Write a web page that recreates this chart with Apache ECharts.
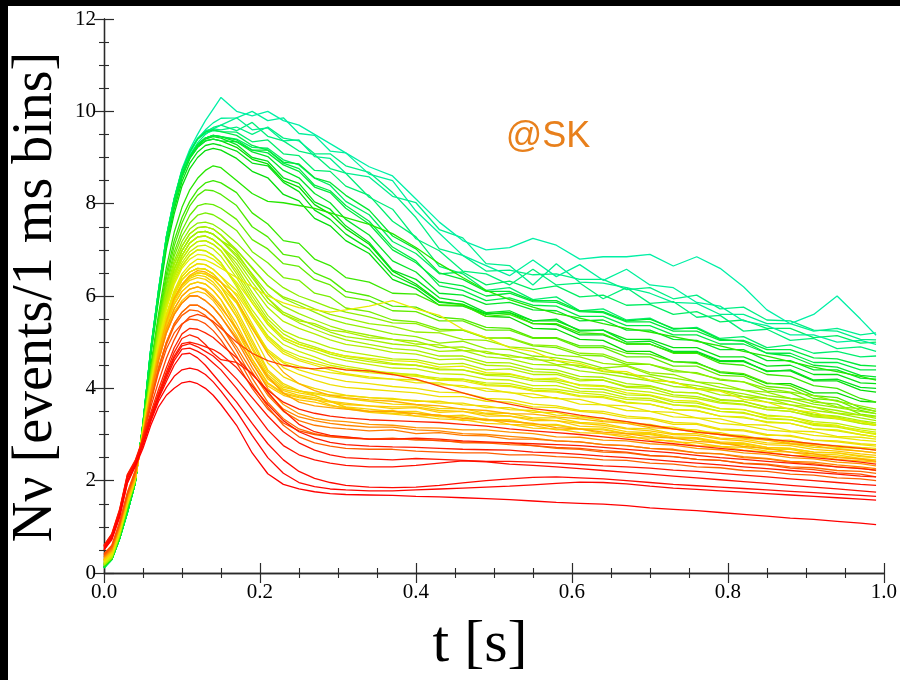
<!DOCTYPE html>
<html>
<head>
<meta charset="utf-8">
<script src="https://cdn.jsdelivr.net/npm/echarts/dist/echarts.min.js"></script>
<style>
html, body { margin: 0; padding: 0; background: #ffffff; }
#chart { width: 900px; height: 680px; }
</style>
</head>
<body>
<div id="chart"></div>
<script>
// Sampling times (s) shared by every neutrino event-rate run
const t = [0, 0.01, 0.02, 0.03, 0.04, 0.05, 0.06, 0.07, 0.08, 0.09, 0.10, 0.11, 0.12, 0.13, 0.14, 0.15,
  0.17, 0.19, 0.21, 0.23, 0.25, 0.27, 0.29, 0.31,
  0.34, 0.37, 0.40, 0.43, 0.46, 0.49, 0.52, 0.55, 0.58, 0.61, 0.64, 0.67, 0.70, 0.73, 0.76, 0.79, 0.82, 0.85, 0.88, 0.91, 0.94, 0.97, 0.99];

// Events per 1 ms bin, one array per run (highest-yield runs first)
const springRuns = [
  [0.12,0.30,0.75,1.32,1.95,3.22,4.80,6.05,7.20,8.00,8.62,9.02,9.28,9.42,9.48,9.45, 9.40,9.22,9.20,8.95,8.84,8.55,8.40,8.05, 7.76,7.18,6.92,6.48,6.52,6.24,6.32,6.14,6.22,5.98,6.02,5.80,5.82,5.60,5.66,5.44,5.48,5.30,5.30,5.10,5.14,4.98,5.00],
  [0.11,0.29,0.74,1.31,1.94,3.24,4.85,6.12,7.28,8.10,8.72,9.12,9.40,9.52,9.58,9.56, 9.55,9.34,9.38,9.08,9.04,8.72,8.70,8.38, 8.18,7.62,7.28,6.64,6.48,6.12,6.18,5.92,5.98,5.68,5.72,5.48,5.52,5.28,5.32,5.08,5.12,4.88,4.94,4.76,4.80,4.68,4.70],
  [0.11,0.29,0.74,1.31,1.94,3.24,4.85,6.12,7.28,8.10,8.72,9.12,9.40,9.55,9.65,9.70, 9.58,9.76,9.46,9.36,9.14,9.06,8.76,8.66, 8.14,7.88,7.24,6.98,6.54,6.48,6.24,6.58,6.24,6.28,5.94,6.18,5.84,5.88,5.54,5.58,5.24,5.28,5.04,5.08,4.86,4.90,4.80],
  [0.11,0.29,0.74,1.31,1.94,3.24,4.85,6.12,7.28,8.10,8.72,9.14,9.42,9.58,9.62,9.60, 9.66,9.50,9.66,9.42,9.36,9.08,9.08,8.82, 8.68,8.24,7.70,7.02,6.88,6.54,6.56,6.46,6.48,6.36,6.36,6.14,6.18,5.94,6.02,5.72,5.76,5.48,5.46,5.26,5.24,5.06,5.05],
  [0.11,0.29,0.74,1.31,1.94,3.24,4.85,6.10,7.25,8.06,8.66,9.05,9.32,9.50,9.62,9.70, 9.86,9.60,9.64,9.36,9.38,9.02,8.98,8.66, 8.58,8.16,8.02,7.44,7.26,6.70,6.66,6.24,6.70,6.30,6.28,6.18,6.06,5.86,5.84,5.60,5.60,5.40,5.40,5.24,5.30,5.16,5.20],
  [0.11,0.29,0.74,1.31,1.94,3.24,4.86,6.12,7.26,8.08,8.70,9.10,9.40,9.60,9.75,9.85, 9.86,10.00,9.80,9.86,9.52,9.48,9.14,9.10, 8.64,8.50,7.84,7.36,6.88,6.66,6.44,6.78,6.42,6.68,6.34,6.58,6.24,6.18,5.86,5.78,5.46,5.36,5.16,5.16,5.00,5.04,4.95],
  [0.11,0.29,0.74,1.30,1.94,3.25,4.88,6.15,7.30,8.12,8.75,9.18,9.50,9.80,10.05,10.30, 10.00,9.90,10.00,9.80,9.70,9.50,9.30,9.10, 8.80,8.60,8.10,7.60,7.20,7.00,7.05,7.25,7.10,6.80,6.85,6.85,6.90,6.65,6.85,6.60,6.20,5.70,5.40,5.60,6.00,5.50,5.15]
];

const greenRuns = [
  [0.12,0.30,0.75,1.32,1.95,3.22,4.80,6.05,7.18,7.98,8.58,8.98,9.22,9.36,9.40,9.36, 9.22,8.96,8.86,8.50,8.36,7.98,7.78,7.46, 7.12,6.54,6.26,5.88,5.82,5.56,5.54,5.30,5.28,5.06,5.04,4.80,4.80,4.58,4.56,4.34,4.30,4.10,4.10,3.90,3.90,3.72,3.70],
  [0.13,0.31,0.77,1.34,1.96,3.19,4.72,5.92,7.02,7.78,8.38,8.76,9.00,9.15,9.20,9.16, 8.98,8.70,8.56,8.20,8.06,7.68,7.52,7.20, 6.92,6.36,6.16,5.80,5.78,5.60,5.64,5.40,5.38,5.16,5.16,4.96,4.96,4.78,4.78,4.58,4.58,4.38,4.38,4.16,4.16,3.96,3.92],
  [0.13,0.31,0.76,1.33,1.96,3.20,4.75,5.98,7.10,7.88,8.48,8.88,9.12,9.26,9.30,9.26, 9.14,8.88,8.82,8.46,8.26,7.86,7.66,7.34, 7.02,6.46,6.22,5.86,5.82,5.62,5.64,5.46,5.46,5.26,5.26,5.06,5.06,4.88,4.88,4.68,4.68,4.48,4.50,4.30,4.30,4.12,4.10],
  [0.12,0.30,0.75,1.32,1.95,3.22,4.80,6.05,7.20,8.00,8.60,9.00,9.25,9.40,9.45,9.42, 9.28,9.00,8.92,8.56,8.44,8.04,7.88,7.52, 7.16,6.56,6.36,5.96,5.88,5.64,5.68,5.46,5.50,5.24,5.26,5.00,5.02,4.80,4.80,4.60,4.60,4.36,4.40,4.18,4.20,4.02,4.00],
  [0.12,0.30,0.75,1.32,1.95,3.22,4.80,6.05,7.20,8.00,8.62,9.02,9.28,9.42,9.48,9.45, 9.34,9.12,9.02,8.72,8.56,8.22,8.02,7.66, 7.32,6.76,6.52,6.06,6.02,5.82,5.86,5.70,5.68,5.46,5.48,5.26,5.26,5.06,5.04,4.84,4.84,4.60,4.60,4.40,4.40,4.22,4.20],
  [0.12,0.30,0.75,1.32,1.95,3.22,4.80,6.05,7.18,7.98,8.58,8.98,9.22,9.36,9.40,9.36, 9.34,9.16,9.16,8.90,8.86,8.56,8.46,8.18, 7.86,7.30,7.02,6.50,6.36,6.10,6.10,5.90,5.90,5.68,5.66,5.46,5.50,5.30,5.30,5.06,5.02,4.76,4.70,4.50,4.46,4.28,4.25],
  [0.12,0.30,0.75,1.32,1.95,3.22,4.80,6.05,7.20,8.00,8.62,9.02,9.28,9.42,9.48,9.45, 9.38,9.16,9.10,8.84,8.70,8.36,8.24,7.90, 7.56,7.00,6.72,6.30,6.22,6.00,6.06,5.88,5.86,5.66,5.64,5.44,5.44,5.24,5.24,5.04,5.04,4.84,4.84,4.66,4.64,4.50,4.48],
  [0.11,0.29,0.74,1.31,1.94,3.24,4.85,6.12,7.28,8.10,8.72,9.12,9.40,9.55,9.60,9.56, 9.48,9.26,9.16,8.88,8.76,8.40,8.28,7.96, 7.62,7.06,6.76,6.22,6.12,5.90,5.96,5.80,5.78,5.56,5.56,5.36,5.36,5.16,5.16,4.96,4.96,4.76,4.76,4.56,4.56,4.40,4.40]
];

const limeRuns = [
  [0.14,0.31,0.78,1.40,1.96,3.20,4.50,5.62,6.62,7.38,7.92,8.30,8.55,8.72,8.82,8.78, 8.50,8.22,8.05,8.02,7.96,7.90,7.80,7.70, 7.55,7.35,7.05,6.70,6.40,6.12,5.92,5.76,5.62,5.52,5.40,5.30,5.22,5.12,5.02,4.92,4.80,4.70,4.58,4.46,4.36,4.26,4.18],
  [0.16,0.32,0.80,1.42,1.98,3.18,4.40,5.52,6.48,7.20,7.70,8.05,8.30,8.45,8.50,8.45, 8.24,7.80,7.56,7.20,7.14,6.80,6.66,6.40, 6.30,6.06,6.04,5.80,5.80,5.56,5.60,5.40,5.40,5.20,5.18,4.96,4.96,4.76,4.76,4.54,4.50,4.30,4.26,4.06,4.00,3.78,3.70],
  [0.16,0.32,0.80,1.43,1.98,3.16,4.36,5.45,6.38,7.08,7.58,7.95,8.18,8.30,8.28,8.20, 7.96,7.50,7.28,6.90,6.84,6.50,6.36,6.10, 6.00,5.78,5.76,5.54,5.50,5.32,5.30,5.10,5.10,4.92,4.92,4.76,4.74,4.58,4.54,4.36,4.32,4.12,4.06,3.84,3.80,3.58,3.50],
  [0.17,0.33,0.81,1.44,1.99,3.15,4.32,5.38,6.28,6.95,7.42,7.75,7.95,8.00,7.98,7.90, 7.66,7.22,7.02,6.70,6.64,6.36,6.24,5.98, 5.90,5.68,5.66,5.46,5.46,5.26,5.26,5.08,5.08,4.88,4.88,4.68,4.68,4.48,4.48,4.28,4.26,4.04,4.00,3.78,3.74,3.52,3.45],
  [0.17,0.33,0.82,1.45,1.99,3.14,4.30,5.34,6.22,6.86,7.30,7.58,7.75,7.80,7.76,7.66, 7.42,6.96,6.72,6.40,6.34,6.06,5.98,5.74, 5.66,5.48,5.44,5.28,5.26,5.10,5.08,4.92,4.88,4.72,4.70,4.52,4.52,4.36,4.34,4.18,4.14,3.94,3.90,3.70,3.66,3.44,3.40]
];

const yellowGreenRuns = [
  [0.17,0.33,0.83,1.47,2.01,3.16,4.26,5.30,6.14,6.76,7.18,7.45,7.58,7.60,7.55,7.44, 7.15,6.80,6.45,6.18,6.00,5.88,5.75,5.65, 5.55,5.42,5.40,5.24,5.26,5.08,5.10,4.94,4.92,4.76,4.74,4.56,4.52,4.40,4.32,4.20,4.14,4.00,3.92,3.84,3.72,3.62,3.55],
  [0.18,0.34,0.84,1.48,2.01,3.14,4.22,5.24,6.06,6.68,7.08,7.35,7.48,7.50,7.45,7.32, 7.00,6.60,6.22,5.95,5.80,5.65,5.50,5.40, 5.30,5.18,5.12,4.98,5.02,4.86,4.84,4.70,4.66,4.58,4.44,4.48,4.30,4.22,4.14,4.02,3.96,3.84,3.78,3.66,3.58,3.50,3.45],
  [0.19,0.35,0.85,1.49,2.02,3.12,4.18,5.18,5.98,6.58,6.98,7.25,7.38,7.40,7.34,7.20, 7.00,6.62,6.22,5.98,5.86,5.72,5.60,5.52, 5.40,5.34,5.22,5.20,5.06,5.04,4.90,4.86,4.72,4.68,4.54,4.50,4.34,4.30,4.14,4.10,3.96,3.92,3.78,3.74,3.60,3.56,3.50],
  [0.19,0.35,0.85,1.49,2.02,3.12,4.18,5.18,5.98,6.58,6.98,7.25,7.38,7.40,7.34,7.20, 6.90,6.48,6.05,5.78,5.62,5.48,5.35,5.25, 5.15,5.06,5.02,4.88,4.90,4.76,4.72,4.62,4.60,4.46,4.42,4.30,4.26,4.12,4.06,3.96,3.88,3.78,3.72,3.60,3.52,3.42,3.35],
  [0.19,0.35,0.85,1.49,2.02,3.12,4.18,5.18,5.98,6.58,6.98,7.25,7.38,7.40,7.34,7.20, 6.85,6.40,5.95,5.65,5.50,5.36,5.22,5.12, 5.05,4.96,4.92,4.80,4.82,4.68,4.64,4.52,4.50,4.38,4.32,4.24,4.16,4.04,4.00,3.86,3.82,3.70,3.64,3.52,3.46,3.36,3.30],
  [0.18,0.34,0.84,1.48,2.01,3.14,4.22,5.24,6.06,6.68,7.08,7.35,7.48,7.50,7.45,7.32, 6.95,6.45,5.95,5.60,5.42,5.28,5.15,5.05, 4.95,4.86,4.82,4.70,4.70,4.56,4.55,4.42,4.40,4.26,4.24,4.10,4.06,3.92,3.90,3.76,3.72,3.60,3.56,3.44,3.40,3.30,3.25],
  [0.20,0.36,0.86,1.50,2.02,3.10,4.15,5.12,5.90,6.48,6.88,7.15,7.28,7.30,7.22,7.08, 6.78,6.30,5.86,5.60,5.46,5.40,5.26,5.22, 5.10,5.06,4.96,4.94,4.82,4.80,4.68,4.66,4.52,4.50,4.36,4.32,4.18,4.14,4.00,3.96,3.82,3.78,3.64,3.60,3.46,3.42,3.38],
  [0.20,0.36,0.86,1.50,2.02,3.10,4.15,5.12,5.90,6.48,6.88,7.15,7.28,7.30,7.22,7.08, 6.70,6.20,5.75,5.45,5.30,5.18,5.05,4.95, 4.88,4.78,4.74,4.62,4.64,4.50,4.48,4.36,4.34,4.20,4.18,4.02,4.00,3.86,3.82,3.70,3.66,3.54,3.50,3.38,3.34,3.24,3.20],
  [0.20,0.36,0.86,1.50,2.02,3.10,4.15,5.12,5.90,6.48,6.88,7.15,7.28,7.30,7.22,7.08, 6.62,6.08,5.58,5.25,5.10,5.00,4.88,4.80, 4.72,4.64,4.62,4.52,4.54,4.40,4.42,4.30,4.30,4.16,4.18,4.04,4.04,3.92,3.90,3.74,3.72,3.58,3.56,3.42,3.38,3.24,3.20],
  [0.21,0.37,0.87,1.50,2.02,3.09,4.12,5.08,5.85,6.42,6.80,7.05,7.18,7.20,7.12,6.98, 6.55,6.00,5.50,5.18,5.00,4.90,4.78,4.70, 4.62,4.54,4.50,4.42,4.40,4.28,4.26,4.16,4.14,4.00,3.98,3.86,3.84,3.70,3.68,3.56,3.54,3.42,3.38,3.28,3.24,3.14,3.10],
  [0.21,0.37,0.87,1.50,2.02,3.09,4.12,5.08,5.85,6.42,6.80,7.05,7.18,7.20,7.12,6.98, 6.48,5.92,5.44,5.10,4.96,4.86,4.74,4.66, 4.58,4.52,4.50,4.40,4.40,4.30,4.30,4.20,4.18,4.08,4.06,3.96,3.92,3.82,3.78,3.68,3.64,3.54,3.50,3.40,3.36,3.28,3.22],
  [0.21,0.37,0.87,1.50,2.02,3.08,4.11,5.05,5.80,6.36,6.72,6.96,7.08,7.10,7.02,6.86, 6.40,5.85,5.38,5.05,4.90,4.80,4.68,4.60, 4.52,4.44,4.42,4.32,4.30,4.20,4.18,4.06,4.06,3.94,3.92,3.80,3.78,3.64,3.62,3.50,3.48,3.34,3.32,3.20,3.16,3.06,3.02],
  [0.22,0.38,0.88,1.51,2.03,3.08,4.10,5.02,5.75,6.30,6.65,6.88,7.00,6.98,6.88,6.72, 6.25,5.70,5.25,4.95,4.80,4.68,4.55,4.48, 4.40,4.32,4.30,4.18,4.20,4.08,4.06,3.96,3.94,3.84,3.82,3.70,3.66,3.54,3.52,3.40,3.36,3.28,3.24,3.12,3.08,3.00,2.95],
  [0.22,0.38,0.88,1.51,2.03,3.08,4.10,5.02,5.75,6.30,6.65,6.88,7.00,6.98,6.88,6.72, 6.20,5.62,5.14,4.84,4.70,4.60,4.50,4.44, 4.36,4.34,4.28,4.22,4.20,4.12,4.10,4.00,3.98,3.90,3.86,3.76,3.74,3.64,3.60,3.50,3.46,3.36,3.32,3.22,3.18,3.10,3.05]
];

const yellowRuns = [
  [0.24,0.41,0.91,1.53,2.05,3.08,4.08,5.00,5.72,6.25,6.60,6.80,6.90,6.88,6.80,6.66, 6.30,5.85,5.40,5.10,4.95,4.85,4.78,4.70, 4.65,4.60,4.58,4.46,4.48,4.34,4.32,4.20,4.22,4.06,4.04,3.90,3.86,3.74,3.72,3.56,3.54,3.40,3.38,3.24,3.20,3.06,3.00],
  [0.25,0.42,0.92,1.54,2.05,3.05,4.02,4.92,5.62,6.12,6.48,6.68,6.80,6.78,6.70,6.60, 6.40,6.20,6.00,5.85,5.75,5.70,5.65,5.70, 5.78,5.90,5.72,5.58,5.28,5.10,4.88,4.80,4.60,4.54,4.38,4.36,4.18,4.14,3.98,3.94,3.76,3.70,3.54,3.48,3.34,3.28,3.20],
  [0.26,0.43,0.93,1.54,2.05,3.04,4.00,4.88,5.58,6.08,6.42,6.60,6.70,6.68,6.58,6.42, 6.12,5.60,5.10,4.80,4.64,4.54,4.46,4.40, 4.34,4.30,4.26,4.18,4.16,4.06,4.04,3.94,3.92,3.82,3.80,3.68,3.66,3.54,3.52,3.40,3.38,3.26,3.24,3.12,3.10,3.00,2.95],
  [0.27,0.44,0.94,1.55,2.05,3.02,3.98,4.85,5.52,6.02,6.35,6.52,6.60,6.58,6.48,6.30, 6.05,5.55,5.05,4.75,4.60,4.50,4.40,4.32, 4.25,4.20,4.18,4.08,4.06,3.94,3.92,3.80,3.80,3.66,3.64,3.52,3.50,3.38,3.36,3.24,3.20,3.10,3.06,2.98,2.94,2.88,2.85],
  [0.27,0.44,0.94,1.55,2.05,3.02,3.98,4.85,5.52,6.02,6.35,6.52,6.60,6.58,6.48,6.30, 5.90,5.34,4.84,4.58,4.48,4.40,4.34,4.30, 4.22,4.20,4.12,4.12,4.02,4.00,3.90,3.88,3.78,3.76,3.64,3.62,3.50,3.48,3.36,3.34,3.22,3.20,3.08,3.06,2.96,2.94,2.90],
  [0.28,0.45,0.95,1.55,2.05,3.00,3.95,4.80,5.45,5.95,6.25,6.42,6.50,6.48,6.38,6.20, 5.85,5.30,4.80,4.55,4.40,4.30,4.22,4.15, 4.10,4.04,4.00,3.92,3.90,3.78,3.76,3.66,3.62,3.52,3.50,3.40,3.36,3.26,3.24,3.12,3.10,3.00,2.96,2.88,2.84,2.78,2.75],
  [0.26,0.43,0.93,1.54,2.05,3.04,4.00,4.88,5.58,6.08,6.42,6.60,6.70,6.68,6.58,6.42, 6.00,5.40,4.80,4.45,4.30,4.18,4.08,4.02, 3.98,3.94,3.90,3.82,3.82,3.72,3.70,3.60,3.58,3.50,3.46,3.36,3.34,3.22,3.22,3.10,3.08,2.98,2.98,2.88,2.86,2.80,2.78],
  [0.27,0.44,0.94,1.55,2.05,3.02,3.98,4.85,5.52,6.02,6.35,6.52,6.60,6.58,6.48,6.30, 5.85,5.20,4.55,4.25,4.10,4.00,3.92,3.85, 3.80,3.76,3.74,3.68,3.68,3.58,3.58,3.48,3.48,3.36,3.36,3.24,3.22,3.12,3.10,3.00,2.98,2.88,2.88,2.78,2.76,2.72,2.70],
  [0.28,0.45,0.95,1.55,2.05,3.00,3.95,4.80,5.45,5.95,6.25,6.42,6.50,6.48,6.38,6.20, 5.62,4.98,4.36,4.06,3.94,3.90,3.86,3.84, 3.80,3.78,3.72,3.72,3.64,3.62,3.54,3.52,3.42,3.40,3.30,3.28,3.18,3.16,3.06,3.04,2.94,2.92,2.82,2.80,2.72,2.70,2.66],
  [0.28,0.45,0.95,1.55,2.05,3.00,3.95,4.80,5.45,5.95,6.25,6.42,6.50,6.48,6.38,6.20, 5.70,5.05,4.40,4.10,3.95,3.88,3.82,3.78, 3.72,3.66,3.64,3.56,3.56,3.46,3.46,3.36,3.36,3.26,3.24,3.14,3.12,3.02,3.02,2.92,2.90,2.82,2.80,2.72,2.70,2.64,2.60],
  [0.28,0.45,0.95,1.55,2.05,3.00,3.94,4.78,5.42,5.92,6.22,6.38,6.45,6.42,6.30,6.10, 5.55,4.85,4.25,3.98,3.90,3.84,3.72,3.58, 3.50,3.46,3.46,3.38,3.38,3.30,3.30,3.22,3.20,3.12,3.10,3.02,3.00,2.92,2.90,2.80,2.78,2.68,2.68,2.58,2.56,2.48,2.45],
  [0.29,0.46,0.96,1.56,2.05,3.00,3.92,4.75,5.40,5.88,6.18,6.34,6.40,6.36,6.24,6.05, 5.55,4.90,4.30,4.02,3.95,3.85,3.72,3.60, 3.55,3.50,3.50,3.40,3.42,3.32,3.32,3.22,3.22,3.12,3.12,3.02,3.02,2.92,2.92,2.82,2.80,2.72,2.70,2.62,2.60,2.54,2.50],
  [0.28,0.46,0.96,1.56,2.05,3.00,3.92,4.72,5.38,5.82,6.10,6.25,6.30,6.26,6.12,5.92, 5.40,4.75,4.20,3.95,3.85,3.80,3.72,3.68, 3.62,3.56,3.58,3.48,3.50,3.40,3.40,3.30,3.30,3.18,3.16,3.06,3.04,2.95,2.93,2.84,2.82,2.72,2.70,2.62,2.60,2.52,2.50],
  [0.28,0.46,0.96,1.56,2.05,3.00,3.92,4.72,5.38,5.82,6.10,6.25,6.30,6.26,6.12,5.92, 5.30,4.64,4.12,3.90,3.82,3.76,3.64,3.56, 3.48,3.44,3.40,3.34,3.32,3.24,3.22,3.14,3.12,3.04,3.02,2.94,2.92,2.84,2.82,2.74,2.72,2.64,2.62,2.54,2.52,2.46,2.42],
  [0.30,0.47,0.97,1.57,2.05,2.99,3.90,4.68,5.30,5.72,6.00,6.15,6.20,6.15,6.00,5.80, 5.25,4.62,4.10,3.88,3.80,3.75,3.70,3.65, 3.62,3.60,3.60,3.52,3.50,3.44,3.40,3.34,3.30,3.24,3.20,3.12,3.08,3.00,2.98,2.90,2.86,2.78,2.76,2.68,2.64,2.58,2.55],
  [0.30,0.47,0.97,1.58,2.06,2.98,3.88,4.65,5.25,5.65,5.90,6.05,6.10,6.05,5.90,5.68, 5.15,4.55,4.05,3.85,3.75,3.70,3.62,3.58, 3.50,3.52,3.40,3.42,3.30,3.34,3.22,3.20,3.10,3.12,3.02,2.98,2.88,2.86,2.76,2.74,2.66,2.62,2.55,2.54,2.46,2.43,2.40]
];

const orangeRuns = [
  [0.32,0.48,0.98,1.62,2.08,3.00,3.95,4.78,5.45,5.95,6.25,6.45,6.55,6.52,6.42,6.30, 5.90,5.30,4.75,4.35,4.10,3.95,3.85,3.80, 3.75,3.72,3.65,3.62,3.55,3.52,3.45,3.44,3.38,3.34,3.28,3.24,3.15,3.12,3.05,3.00,2.92,2.88,2.80,2.76,2.68,2.64,2.60],
  [0.34,0.50,1.00,1.64,2.10,3.00,3.90,4.68,5.30,5.72,6.00,6.15,6.20,6.12,5.95,5.75, 5.30,4.75,4.25,3.90,3.70,3.62,3.58,3.55, 3.50,3.50,3.45,3.42,3.35,3.32,3.28,3.24,3.15,3.12,3.05,3.02,2.95,2.92,2.85,2.82,2.74,2.70,2.62,2.58,2.50,2.47,2.42],
  [0.35,0.52,1.02,1.66,2.12,2.98,3.85,4.60,5.20,5.60,5.85,6.00,6.00,5.90,5.75,5.55, 5.10,4.55,4.00,3.65,3.45,3.35,3.30,3.28, 3.22,3.20,3.15,3.14,3.10,3.10,3.05,3.02,2.95,2.94,2.88,2.86,2.80,2.77,2.70,2.67,2.60,2.57,2.50,2.47,2.40,2.37,2.32],
  [0.35,0.52,1.02,1.66,2.12,2.98,3.85,4.60,5.20,5.60,5.85,6.00,6.00,5.90,5.75,5.55, 5.05,4.45,3.90,3.55,3.38,3.30,3.24,3.20, 3.16,3.16,3.10,3.08,3.02,3.00,2.96,2.92,2.86,2.84,2.78,2.76,2.70,2.66,2.60,2.58,2.52,2.48,2.42,2.40,2.34,2.30,2.26],
  [0.38,0.55,1.05,1.70,2.16,2.96,3.75,4.45,5.00,5.40,5.65,5.80,5.80,5.70,5.55,5.35, 4.90,4.35,3.85,3.50,3.30,3.20,3.15,3.12, 3.08,3.10,3.02,3.04,2.98,2.97,2.90,2.90,2.86,2.84,2.78,2.76,2.70,2.68,2.60,2.58,2.50,2.47,2.40,2.37,2.30,2.27,2.22],
  [0.38,0.55,1.05,1.70,2.16,2.96,3.75,4.45,5.00,5.40,5.65,5.80,5.80,5.70,5.55,5.35, 4.82,4.22,3.70,3.34,3.12,3.02,2.96,2.94, 2.90,2.92,2.88,2.88,2.82,2.82,2.78,2.76,2.70,2.68,2.62,2.60,2.54,2.52,2.46,2.44,2.38,2.36,2.30,2.28,2.22,2.20,2.16],
  [0.42,0.60,1.10,1.75,2.22,2.96,3.72,4.42,4.95,5.35,5.58,5.70,5.68,5.58,5.42,5.20, 4.70,4.10,3.60,3.20,2.95,2.82,2.75,2.70, 2.68,2.68,2.64,2.62,2.60,2.60,2.56,2.56,2.52,2.50,2.45,2.44,2.38,2.36,2.30,2.28,2.22,2.20,2.14,2.12,2.06,2.04,2.00],
  [0.40,0.58,1.08,1.72,2.20,2.95,3.70,4.35,4.85,5.20,5.40,5.50,5.48,5.40,5.25,5.05, 4.55,4.00,3.55,3.25,3.08,3.00,2.95,2.92, 2.90,2.90,2.90,2.86,2.84,2.82,2.82,2.76,2.72,2.70,2.65,2.62,2.55,2.52,2.46,2.44,2.37,2.34,2.27,2.24,2.17,2.14,2.08],
  [0.50,0.74,1.24,1.95,2.34,2.95,3.60,4.15,4.65,5.05,5.38,5.55,5.60,5.55,5.45,5.30, 5.00,4.76,4.60,4.50,4.45,4.42,4.45,4.40, 4.38,4.30,4.20,4.05,3.90,3.76,3.66,3.56,3.50,3.42,3.35,3.28,3.20,3.12,3.05,3.00,2.95,2.90,2.85,2.80,2.75,2.70,2.66]
];

const redRuns = [
  [0.60,0.85,1.38,2.14,2.44,2.92,3.48,3.98,4.45,4.88,5.18,5.30,5.28,5.20,5.10,4.95, 4.66,4.30,3.96,3.70,3.55,3.46,3.40,3.36, 3.32,3.30,3.28,3.26,3.22,3.18,3.12,3.08,3.04,3.00,2.95,2.90,2.85,2.80,2.75,2.70,2.65,2.60,2.55,2.50,2.45,2.40,2.36],
  [0.58,0.82,1.33,2.08,2.40,2.86,3.42,3.90,4.36,4.78,5.08,5.16,5.10,4.95,4.76,4.62, 4.56,4.32,3.92,3.52,3.22,3.06,2.98,2.95, 2.90,2.90,2.92,2.90,2.86,2.84,2.82,2.80,2.78,2.76,2.72,2.68,2.64,2.60,2.55,2.50,2.46,2.42,2.38,2.34,2.30,2.26,2.23],
  [0.60,0.84,1.36,2.12,2.42,2.88,3.40,3.86,4.30,4.70,4.97,5.00,4.96,4.90,4.84,4.74, 4.45,4.05,3.65,3.30,3.06,2.92,2.83,2.78, 2.75,2.73,2.72,2.70,2.68,2.67,2.66,2.62,2.60,2.57,2.53,2.50,2.46,2.42,2.38,2.34,2.30,2.26,2.22,2.18,2.14,2.10,2.08],
  [0.58,0.82,1.34,2.10,2.40,2.85,3.38,3.84,4.28,4.66,4.92,4.97,4.90,4.80,4.70,4.55, 4.20,3.80,3.40,3.06,2.82,2.66,2.56,2.50, 2.47,2.45,2.48,2.46,2.44,2.42,2.42,2.40,2.38,2.35,2.32,2.30,2.27,2.23,2.20,2.16,2.12,2.08,2.04,2.00,1.96,1.92,1.90],
  [0.56,0.80,1.32,2.08,2.38,2.82,3.35,3.80,4.22,4.60,4.85,4.87,4.80,4.70,4.55,4.40, 4.00,3.55,3.10,2.76,2.56,2.45,2.38,2.33, 2.30,2.30,2.33,2.38,2.43,2.41,2.36,2.33,2.30,2.26,2.22,2.18,2.14,2.10,2.06,2.02,1.98,1.94,1.90,1.86,1.82,1.78,1.75],
  [0.55,0.80,1.30,2.05,2.36,2.80,3.32,3.78,4.15,4.50,4.74,4.76,4.66,4.50,4.30,4.10, 3.70,3.24,2.80,2.45,2.20,2.05,1.96,1.90, 1.86,1.85,1.86,1.90,1.95,2.00,2.04,2.07,2.08,2.06,2.04,2.00,1.96,1.92,1.89,1.86,1.83,1.80,1.77,1.74,1.71,1.68,1.66],
  [0.52,0.76,1.26,2.00,2.33,2.76,3.28,3.72,4.02,4.26,4.40,4.44,4.40,4.30,4.14,3.94, 3.50,2.98,2.50,2.16,1.96,1.87,1.82,1.80, 1.78,1.78,1.80,1.82,1.84,1.86,1.88,1.91,1.94,1.97,1.96,1.93,1.88,1.84,1.81,1.78,1.75,1.72,1.69,1.66,1.63,1.60,1.58],
  [0.50,0.72,1.20,1.95,2.30,2.70,3.20,3.60,3.85,4.00,4.12,4.15,4.10,4.00,3.85,3.65, 3.20,2.60,2.15,1.92,1.82,1.76,1.72,1.70, 1.69,1.68,1.66,1.65,1.63,1.61,1.59,1.56,1.53,1.51,1.49,1.46,1.41,1.38,1.35,1.31,1.27,1.23,1.19,1.16,1.12,1.08,1.05]
];

const xTickLabels = ['0.0', '0.2', '0.4', '0.6', '0.8', '1.0'];
const yTickLabels = ['0', '2', '4', '6', '8', '10', '12'];

// Colour ramp per family of runs, from the first run of the family to the last
const families = [
  { runs: springRuns, from: '#00ee62', to: '#00f0a6' },
  { runs: greenRuns, from: '#06dc00', to: '#00ec44' },
  { runs: limeRuns, from: '#26e600', to: '#78ee00' },
  { runs: yellowGreenRuns, from: '#8ef000', to: '#d2f000' },
  { runs: yellowRuns, from: '#e4f000', to: '#ffc600' },
  { runs: orangeRuns, from: '#ffb000', to: '#ff4200' },
  { runs: redRuns, from: '#ff2400', to: '#ff0000' }
];

function hexToRgb(h) {
  const n = parseInt(h.slice(1), 16);
  return [(n >> 16) & 255, (n >> 8) & 255, n & 255];
}
function mix(a, b, f) {
  const p = hexToRgb(a), q = hexToRgb(b);
  const c = p.map((v, i) => Math.round(v + (q[i] - v) * f));
  return 'rgb(' + c.join(',') + ')';
}

const series = [];
families.forEach(fam => {
  const n = fam.runs.length;
  fam.runs.forEach((run, i) => {
    series.push({
      type: 'line',
      xAxisIndex: 0,
      yAxisIndex: 0,
      data: t.map((x, k) => [x, run[k]]),
      showSymbol: false,
      symbol: 'none',
      silent: true,
      animation: false,
      lineStyle: { width: 1.3, color: mix(fam.from, fam.to, n > 1 ? i / (n - 1) : 0) }
    });
  });
});

const serif = '"Liberation Serif", "Times New Roman", serif';
const frameLine = { show: true, lineStyle: { color: '#2a2a2a', width: 1.3 } };
const majorTick = { show: true, inside: true, length: 10, lineStyle: { color: '#2a2a2a', width: 1.2 } };
const minorTick = { show: true, splitNumber: 4, length: 5, lineStyle: { color: '#2a2a2a', width: 1.1 } };

const chart = echarts.init(document.getElementById('chart'), null, { renderer: 'canvas' });
chart.setOption({
  backgroundColor: '#ffffff',
  animation: false,
  grid: { left: 104, right: 14, top: 19, bottom: 107, containLabel: false },
  xAxis: [
    {
      type: 'value', position: 'bottom', min: 0, max: 1, interval: 0.2,
      axisLine: frameLine, axisTick: majorTick, minorTick: minorTick,
      splitLine: { show: false }, minorSplitLine: { show: false },
      axisLabel: {
        show: true, margin: 9, color: '#000', fontFamily: serif, fontSize: 21,
        formatter: v => xTickLabels[Math.round(v / 0.2)]
      }
    },
    {
      type: 'value', position: 'top', min: 0, max: 1, interval: 0.2,
      axisLine: frameLine, axisTick: majorTick, minorTick: minorTick,
      splitLine: { show: false }, axisLabel: { show: false }
    }
  ],
  yAxis: [
    {
      type: 'value', position: 'left', min: 0, max: 12, interval: 2,
      axisLine: frameLine, axisTick: majorTick, minorTick: minorTick,
      splitLine: { show: false }, minorSplitLine: { show: false },
      axisLabel: {
        show: true, margin: 8, color: '#000', fontFamily: serif, fontSize: 21,
        formatter: v => yTickLabels[Math.round(v / 2)]
      }
    },
    {
      type: 'value', position: 'right', min: 0, max: 12, interval: 2,
      axisLine: frameLine, axisTick: majorTick, minorTick: minorTick,
      splitLine: { show: false }, axisLabel: { show: false }
    }
  ],
  graphic: [
    { type: 'rect', left: 0, top: 0, shape: { width: 900, height: 6 }, style: { fill: '#000' }, z: 100 },
    { type: 'rect', left: 0, top: 0, shape: { width: 8, height: 680 }, style: { fill: '#000' }, z: 100 },
    {
      type: 'text', x: 36, y: 297, rotation: Math.PI / 2, z: 100,
      style: { text: 'N\u03bd [events/1 ms bins]', font: '56px ' + serif, fill: '#000', textAlign: 'center', textVerticalAlign: 'middle' }
    },
    {
      type: 'text', x: 480, y: 645, z: 100,
      style: { text: 't [s]', font: '60px ' + serif, fill: '#000', textAlign: 'center', textVerticalAlign: 'middle' }
    },
    {
      type: 'text', x: 548, y: 137, z: 100,
      style: { text: '@SK', font: '36px "Liberation Sans", Arial, sans-serif', fill: '#e8801c', textAlign: 'center', textVerticalAlign: 'middle' }
    }
  ],
  series: series
});
</script>
</body>
</html>
